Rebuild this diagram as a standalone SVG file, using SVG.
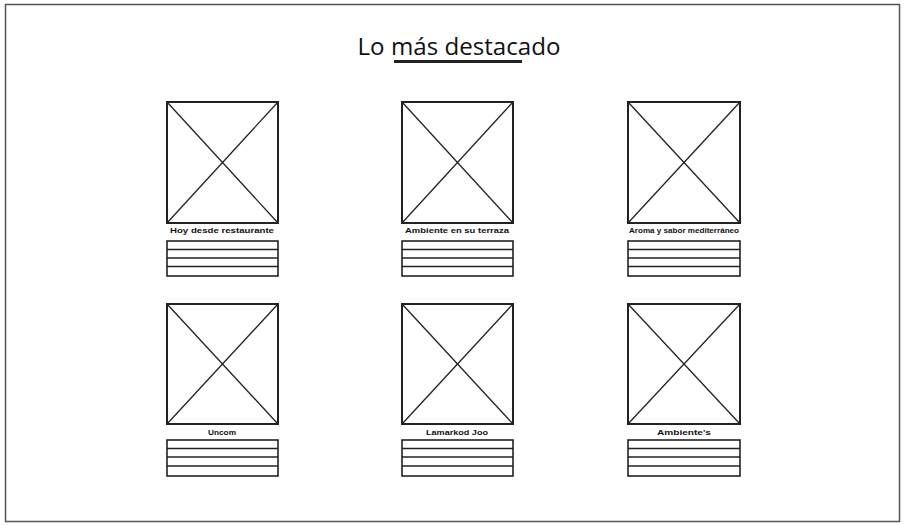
<svg xmlns="http://www.w3.org/2000/svg" width="904" height="525" viewBox="0 0 904 525">
<defs>
<style>
.frame{fill:#ffffff;stroke:#555;stroke-width:1.5}
.img{fill:#fff;stroke:#222;stroke-width:2}
.x{stroke:#222;stroke-width:1.3}
.lines{fill:#fff;stroke:#222;stroke-width:1.6}
.ln{stroke:#222;stroke-width:1.4}
.lbl{font-family:"Liberation Sans",Arial,sans-serif;font-size:8px;font-weight:bold;fill:#111;text-anchor:middle}
.title{font-family:"Open Sans","Noto Sans",sans-serif;font-size:23px;fill:#111;text-anchor:middle}
</style>
</defs>
<rect class="frame" x="5.5" y="4.5" width="894" height="517"/>
<g id="title">
<text class="title" x="459" y="55" textLength="203" lengthAdjust="spacingAndGlyphs">Lo más destacado</text>
<line x1="394" y1="61.5" x2="522" y2="61.5" stroke="#222" stroke-width="3"/>
</g>
<g id="card1">
<rect class="img" x="167" y="102" width="111" height="121"/>
<line class="x" x1="167" y1="102" x2="278" y2="223"/><line class="x" x1="278" y1="102" x2="167" y2="223"/>
<text class="lbl" x="222" y="233" textLength="104" lengthAdjust="spacingAndGlyphs">Hoy desde restaurante</text>
<rect class="lines" x="167" y="241" width="111" height="35"/>
<line class="ln" x1="167" y1="249.5" x2="278" y2="249.5"/><line class="ln" x1="167" y1="258" x2="278" y2="258"/><line class="ln" x1="167" y1="266.5" x2="278" y2="266.5"/>
</g>
<g id="card2">
<rect class="img" x="402" y="102" width="111" height="121"/>
<line class="x" x1="402" y1="102" x2="513" y2="223"/><line class="x" x1="513" y1="102" x2="402" y2="223"/>
<text class="lbl" x="457" y="233" textLength="104" lengthAdjust="spacingAndGlyphs">Ambiente en su terraza</text>
<rect class="lines" x="402" y="241" width="111" height="35"/>
<line class="ln" x1="402" y1="249.5" x2="513" y2="249.5"/><line class="ln" x1="402" y1="258" x2="513" y2="258"/><line class="ln" x1="402" y1="266.5" x2="513" y2="266.5"/>
</g>
<g id="card3">
<rect class="img" x="628" y="102" width="112" height="121"/>
<line class="x" x1="628" y1="102" x2="740" y2="223"/><line class="x" x1="740" y1="102" x2="628" y2="223"/>
<text class="lbl" x="684" y="233" textLength="110" lengthAdjust="spacingAndGlyphs">Aroma y sabor mediterráneo</text>
<rect class="lines" x="628" y="241" width="112" height="35"/>
<line class="ln" x1="628" y1="249.5" x2="740" y2="249.5"/><line class="ln" x1="628" y1="258" x2="740" y2="258"/><line class="ln" x1="628" y1="266.5" x2="740" y2="266.5"/>
</g>
<g id="card4">
<rect class="img" x="167" y="304" width="111" height="120"/>
<line class="x" x1="167" y1="304" x2="278" y2="424"/><line class="x" x1="278" y1="304" x2="167" y2="424"/>
<text class="lbl" x="222" y="435" textLength="28" lengthAdjust="spacingAndGlyphs">Uncom</text>
<rect class="lines" x="167" y="440" width="111" height="36"/>
<line class="ln" x1="167" y1="448.5" x2="278" y2="448.5"/><line class="ln" x1="167" y1="457" x2="278" y2="457"/><line class="ln" x1="167" y1="466" x2="278" y2="466"/>
</g>
<g id="card5">
<rect class="img" x="402" y="304" width="111" height="120"/>
<line class="x" x1="402" y1="304" x2="513" y2="424"/><line class="x" x1="513" y1="304" x2="402" y2="424"/>
<text class="lbl" x="457" y="435" textLength="62" lengthAdjust="spacingAndGlyphs">Lamarkod Joo</text>
<rect class="lines" x="402" y="440" width="111" height="36"/>
<line class="ln" x1="402" y1="448.5" x2="513" y2="448.5"/><line class="ln" x1="402" y1="457" x2="513" y2="457"/><line class="ln" x1="402" y1="466" x2="513" y2="466"/>
</g>
<g id="card6">
<rect class="img" x="628" y="304" width="112" height="120"/>
<line class="x" x1="628" y1="304" x2="740" y2="424"/><line class="x" x1="740" y1="304" x2="628" y2="424"/>
<text class="lbl" x="684" y="435" textLength="54" lengthAdjust="spacingAndGlyphs">Ambiente's</text>
<rect class="lines" x="628" y="440" width="112" height="36"/>
<line class="ln" x1="628" y1="448.5" x2="740" y2="448.5"/><line class="ln" x1="628" y1="457" x2="740" y2="457"/><line class="ln" x1="628" y1="466" x2="740" y2="466"/>
</g>
<g id="connectors"></g>
</svg>
